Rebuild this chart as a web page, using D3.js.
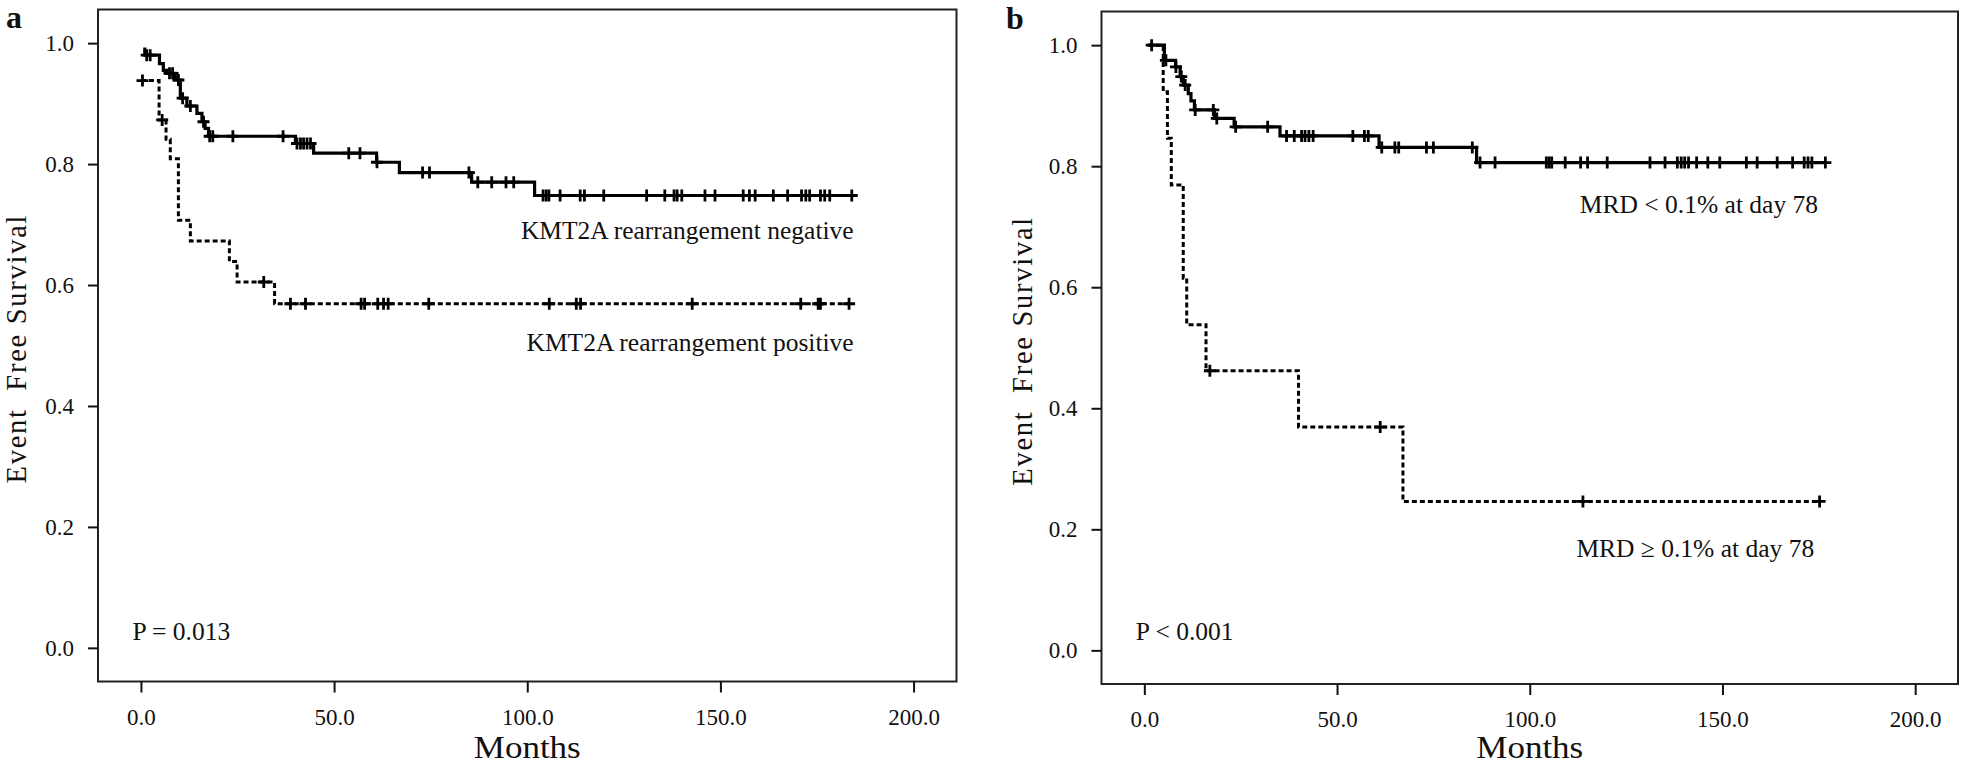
<!DOCTYPE html>
<html>
<head>
<meta charset="utf-8">
<script src="https://cdn.jsdelivr.net/npm/d3@7"></script>
<style>
  html, body { margin: 0; padding: 0; background: #fff; }
  svg { display: block; }
  text { font-family: "Liberation Serif", "Times New Roman", serif; fill: #111; }
</style>
</head>
<body>
<svg id="chart" width="1961" height="766"></svg>
<script>
// ---------------- DATA ----------------
// Axis ticks
const xTicks = [0, 50, 100, 150, 200];
const yTicks = [0, 0.2, 0.4, 0.6, 0.8, 1.0];
const yAxisTitle = "Event  Free Survival";
const xAxisTitle = "Months";

// Panel a: KMT2A rearrangement negative (solid)
const aNegTimes = [0.6, 1.0, 4.8, 5.8, 6.7, 8.9, 10.2, 11.9, 14.5, 15.8, 16.6, 17.5, 40.0, 44.7, 61.0, 66.9, 85.6, 101.9, 184.0];
const aNegSurv  = [0.990, 0.980, 0.966, 0.955, 0.950, 0.939, 0.909, 0.896, 0.884, 0.870, 0.859, 0.846, 0.834, 0.818, 0.803, 0.786, 0.770, 0.748, 0.748];
const aNegCensor = [1.5, 2.4, 7.4, 8.2, 9.7, 10.8, 12.8, 16.2, 17.8, 18.6, 23.8, 36.8, 40.4, 41.3, 42.1, 43.0, 43.9, 53.8, 56.7, 61.1, 72.9, 74.7, 84.9, 87.2, 90.8, 94.5, 96.5, 104.1, 104.9, 105.6, 108.5, 113.7, 114.8, 119.8, 130.9, 135.6, 138.0, 138.8, 140.0, 146.0, 148.6, 155.9, 157.5, 159.0, 163.7, 167.4, 171.0, 172.1, 173.1, 175.9, 177.0, 178.3, 184.0];

// Panel a: KMT2A rearrangement positive (dashed)
const aPosTimes = [0.0, 4.7, 6.5, 7.6, 9.7, 12.8, 22.9, 24.9, 34.6, 183.3];
const aPosSurv  = [0.938, 0.873, 0.841, 0.809, 0.707, 0.673, 0.639, 0.605, 0.569, 0.569];
const aPosCensor = [0.4, 5.5, 31.8, 38.7, 42.6, 57.0, 57.9, 61.3, 62.8, 64.0, 74.5, 105.7, 112.7, 113.8, 142.7, 170.8, 175.3, 175.9, 183.3];

// Panel b: MRD < 0.1% at day 78 (solid)
const bLowTimes = [1.0, 5.2, 8.1, 9.3, 10.1, 11.4, 12.1, 13.0, 18.2, 23.3, 35.2, 60.9, 86.2, 176.7];
const bLowSurv  = [1.000, 0.975, 0.964, 0.948, 0.934, 0.920, 0.908, 0.893, 0.879, 0.865, 0.850, 0.831, 0.806, 0.806];
const bLowCensor = [1.9, 5.6, 8.2, 9.6, 10.6, 13.2, 17.9, 18.8, 23.7, 32.0, 36.9, 38.9, 40.8, 41.7, 42.7, 43.8, 54.1, 57.1, 58.1, 61.6, 65.0, 66.0, 73.2, 75.0, 85.1, 87.1, 91.0, 104.3, 105.0, 105.7, 109.2, 113.2, 115.0, 120.1, 131.2, 135.1, 138.3, 139.3, 140.2, 141.2, 143.3, 146.2, 149.3, 156.2, 159.0, 164.2, 168.2, 171.2, 172.2, 173.2, 176.7];

// Panel b: MRD >= 0.1% at day 78 (dashed)
const bHighTimes = [1.0, 4.9, 6.0, 7.0, 10.1, 11.0, 16.0, 40.0, 67.1, 175.5];
const bHighSurv  = [1.000, 0.923, 0.846, 0.769, 0.615, 0.538, 0.462, 0.369, 0.246, 0.246];
const bHighCensor = [17.0, 61.2, 113.8, 175.2];

const panelLetters = ["a", "b"];
const pValues = ["P = 0.013", "P < 0.001"];
const groupLabelsA = ["KMT2A rearrangement negative", "KMT2A rearrangement positive"];
const groupLabelsB = ["MRD < 0.1% at day 78", "MRD \u2265 0.1% at day 78"];

// ---------------- LAYOUT ----------------
const svg = d3.select("#chart");
const xDomain = [-11.11, 211.11];
const yDomain = [-0.0556, 1.0556];

const panels = [
  {
    frame: {l: 98, r: 956.5, t: 9.5, b: 681.5},
    letter: panelLetters[0], letterX: 6, letterY: 28,
    yTitleX: 25.5,
    p: pValues[0],
    curves: [
      {times: aNegTimes, surv: aNegSurv, censor: aNegCensor, dashed: false},
      {times: aPosTimes, surv: aPosSurv, censor: aPosCensor, dashed: true}
    ],
    labels: [
      {text: groupLabelsA[0], t: 184.5, yPix: 239},
      {text: groupLabelsA[1], t: 184.5, yPix: 351}
    ]
  },
  {
    frame: {l: 1101.5, r: 1958, t: 11.5, b: 684},
    letter: panelLetters[1], letterX: 1006, letterY: 29,
    yTitleX: 1032,
    p: pValues[1],
    curves: [
      {times: bLowTimes, surv: bLowSurv, censor: bLowCensor, dashed: false},
      {times: bHighTimes, surv: bHighSurv, censor: bHighCensor, dashed: true}
    ],
    labels: [
      {text: groupLabelsB[0], t: 174.8, yPix: 213},
      {text: groupLabelsB[1], t: 173.8, yPix: 557}
    ]
  }
];

function survAt(times, surv, t) {
  let s = surv[0];
  for (let i = 0; i < times.length; i++) {
    if (times[i] <= t) s = surv[i]; else break;
  }
  return s;
}

panels.forEach(P => {
  const f = P.frame;
  const x = d3.scaleLinear().domain(xDomain).range([f.l, f.r]);
  const y = d3.scaleLinear().domain(yDomain).range([f.b, f.t]);
  const g = svg.append("g");

  // Frame
  g.append("rect")
    .attr("x", f.l).attr("y", f.t)
    .attr("width", f.r - f.l).attr("height", f.b - f.t)
    .attr("fill", "none").attr("stroke", "#222").attr("stroke-width", 2);

  // X axis
  const xAxis = d3.axisBottom(x).tickValues(xTicks).tickFormat(d3.format(".1f"))
    .tickSize(11).tickPadding(16).tickSizeOuter(0);
  const gx = g.append("g").attr("transform", `translate(0,${f.b})`).call(xAxis);
  gx.select(".domain").remove();
  gx.selectAll(".tick line").attr("stroke", "#111").attr("stroke-width", 2);
  gx.selectAll(".tick text").attr("font-size", 23).attr("font-family", '"Liberation Serif", serif').attr("fill", "#111");

  // Y axis
  const yAxis = d3.axisLeft(y).tickValues(yTicks).tickFormat(d3.format(".1f"))
    .tickSize(10).tickPadding(14).tickSizeOuter(0);
  const gy = g.append("g").attr("transform", `translate(${f.l},0)`).call(yAxis);
  gy.select(".domain").remove();
  gy.selectAll(".tick line").attr("stroke", "#111").attr("stroke-width", 2);
  gy.selectAll(".tick text").attr("font-size", 23).attr("font-family", '"Liberation Serif", serif').attr("fill", "#111");

  // Axis titles
  g.append("text")
    .attr("x", x(100)).attr("y", 758)
    .attr("text-anchor", "middle").attr("font-size", 32)
    .attr("textLength", 107).attr("lengthAdjust", "spacingAndGlyphs")
    .text(xAxisTitle);

  g.append("text")
    .attr("transform", `translate(${P.yTitleX},${(f.t + f.b) / 2 + 4}) rotate(-90)`)
    .attr("text-anchor", "middle").attr("font-size", 28.5)
    .attr("textLength", 268).attr("lengthAdjust", "spacing")
    .style("white-space", "pre")
    .text(yAxisTitle);

  // Panel letter
  g.append("text")
    .attr("x", P.letterX).attr("y", P.letterY)
    .attr("font-size", 32).attr("font-weight", "bold")
    .text(P.letter);

  // P value
  g.append("text")
    .attr("x", x(-2.2)).attr("y", 640)
    .attr("font-size", 25.5)
    .text(P.p);

  // Curves
  const line = d3.line().curve(d3.curveStepAfter)
    .x(d => x(d[0])).y(d => y(d[1]));

  P.curves.forEach(c => {
    const pts = c.times.map((t, i) => [t, c.surv[i]]);
    g.append("path")
      .attr("d", line(pts))
      .attr("fill", "none")
      .attr("stroke", "#000")
      .attr("stroke-width", c.dashed ? 3 : 3.2)
      .attr("stroke-dasharray", c.dashed ? "5,3" : null);

    // Censor marks "+"
    g.append("g").selectAll("path")
      .data(c.censor)
      .join("path")
      .attr("d", t => {
        const cx = x(t), cy = y(survAt(c.times, c.surv, t));
        return `M${cx - 6},${cy}H${cx + 6}M${cx},${cy - 6}V${cy + 6}`;
      })
      .attr("stroke", "#000").attr("stroke-width", 2.8).attr("fill", "none");
  });

  // Group labels
  P.labels.forEach(L => {
    g.append("text")
      .attr("x", x(L.t)).attr("y", L.yPix)
      .attr("text-anchor", "end").attr("font-size", 25.5)
      .text(L.text);
  });
});
</script>
</body>
</html>
